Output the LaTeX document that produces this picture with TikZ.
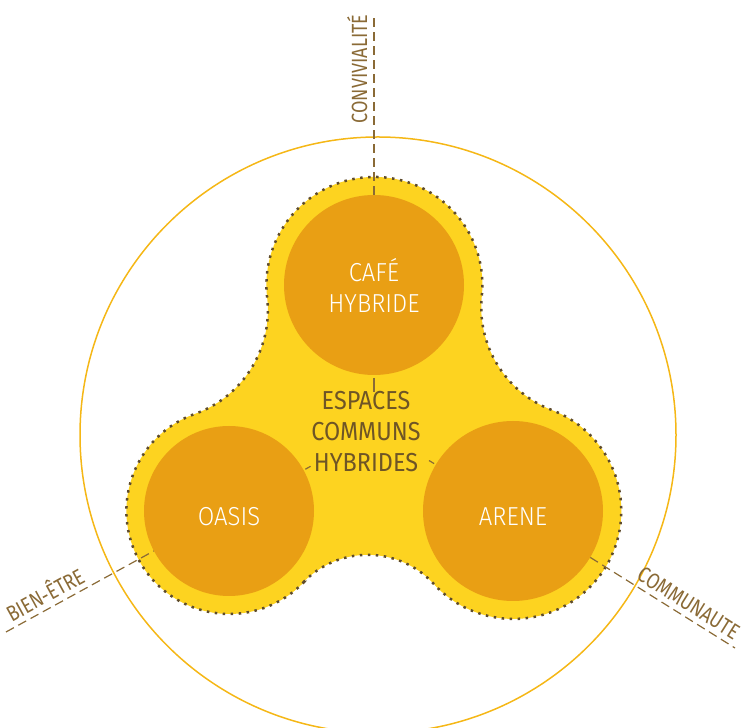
\documentclass[tikz,border=0pt]{standalone}
\usepackage{fontspec}
\setmainfont{Fira Sans}
\IfFontExistsTF{Fira Sans Light}
  {\newfontfamily\hubfont{Fira Sans Light}[FakeStretch=0.92]}
  {\newfontfamily\hubfont{Fira Sans}[FakeStretch=0.92]}
\newfontfamily\narrowfont{Fira Sans}[FakeStretch=0.9]
\newfontfamily\labelfont{Fira Sans}[FakeStretch=0.82]
\usetikzlibrary{calc}
\definecolor{ringyellow}{HTML}{F5B716}
\definecolor{blobyellow}{HTML}{FDD320}
\definecolor{huborange}{HTML}{E99F14}
\definecolor{dotbrown}{HTML}{5E4B2C}
\definecolor{axisbrown}{HTML}{8A6A36}
\definecolor{textbrown}{HTML}{6E5526}
\tikzset{
  ring/.style={draw=ringyellow, line width=1.5pt},
  blob/.style={fill=blobyellow, draw=dotbrown, line width=2.5pt, dash pattern=on 2.5pt off 5.5pt},
  hub/.style={circle, fill=huborange, text=white, minimum size=180pt, inner sep=0pt,
    align=center, font=\hubfont\fontsize{26}{31}\selectfont},
  lowtext/.style={text height=30pt, text depth=0pt},
  centre/.style={text=textbrown, align=center, font=\narrowfont\fontsize{26}{31}\selectfont},
  axis/.style={draw=axisbrown, line width=1.2pt, dash pattern=on 9pt off 5pt},
  tick/.style={draw=axisbrown, line width=1.2pt},
  axislabel/.style={text=axisbrown, inner sep=1pt, font=\labelfont\fontsize{22}{22}\selectfont},
}

\begin{document}
\begin{tikzpicture}[x=1pt,y=1pt]
  \useasboundingbox (0,0) rectangle (742,728);

  \draw[ring] (378,293) circle[radius=298pt];

  % yellow blob round the three circles
  \filldraw[blob] (303.3,145.7)
    arc[start angle=136.2, end angle=42.45, radius=89.3pt]
    arc[start angle=-137.55, end angle=69.06, radius=108pt]
    arc[start angle=249.06, end angle=174.10, radius=110pt]
    arc[start angle=-5.90, end angle=186.69, radius=108pt]
    arc[start angle=6.69, end angle=-70.38, radius=110pt]
    arc[start angle=109.62, end angle=316.2, radius=103pt] -- cycle;

  \node[hub] (cafe) at (374,443) {CAFÉ\\HYBRIDE};
  \node[hub, lowtext, minimum size=170pt] (oasis) at (229,217) {OASIS};
  \node[hub, lowtext] (arene) at (513,217) {ARENE};
  \node[centre] (espaces) at (366,296) {ESPACES\\COMMUNS\\HYBRIDES};

  \coordinate (convEnd) at (374,713);
  \coordinate (bienEnd) at (6,96);
  \coordinate (commEnd) at (735,80);

  \draw[axis] (cafe.north) -- (convEnd)
    node[pos=0.7, sloped, above=5pt, axislabel] (conv) {CONVIVIALITÉ};
  \draw[axis] (bienEnd) -- (oasis.208.7)
    node[pos=0.31, sloped, above=4pt, axislabel] (bien) {BIEN-ÊTRE};
  \draw[axis] (arene.-31) -- (commEnd)
    node[pos=0.63, sloped, above=4pt, axislabel] (comm) {COMMUNAUTE};

  \draw[tick] ($(cafe)+(270:93pt)$) -- ($(cafe)+(270:107pt)$);
  \draw[tick] ($(oasis)+(28.7:87pt)$) -- ($(oasis)+(28.7:93pt)$);
  \draw[tick] ($(arene)+(149:92pt)$) -- ($(arene)+(149:98pt)$);
\end{tikzpicture}
\end{document}
